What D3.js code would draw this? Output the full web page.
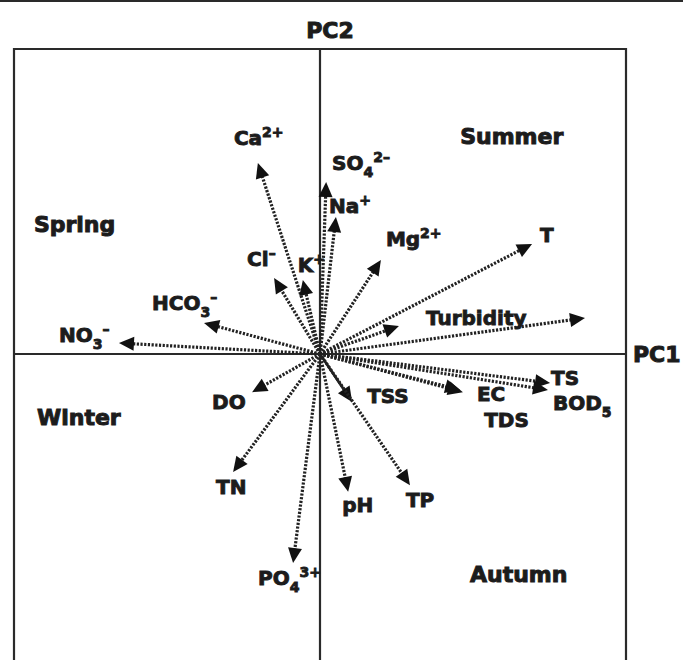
<!DOCTYPE html>
<html>
<head>
<meta charset="utf-8">
<script src="https://cdn.jsdelivr.net/npm/d3@7"></script>
<style>
  html, body { margin: 0; padding: 0; background: #fff; }
  svg text { font-family: "DejaVu Sans", "Liberation Sans", sans-serif; font-weight: bold; fill: #1c1c1c; }
</style>
</head>
<body>
<div id="chart"></div>
<script>
// loadings (PC1, PC2)
var variables = ['Ca{^2+}', 'SO{_4}{^2–}', 'Na{^+}', 'Cl{^–}', 'K{^+}', 'Mg{^2+}', 'HCO{_3}{^–}', 'NO{_3}{^–}',
  'T', 'Turbidity', '', 'TS', 'BOD{_5}', 'EC', 'TDS', 'TSS', 'TP', 'pH', 'PO{_4}{^3+}', 'TN', 'DO']
var pc1 = [-0.203, 0.020, 0.052, -0.150, -0.056, 0.199, -0.379, -0.657,
  0.693, 0.866, 0.258, 0.752, 0.745, 0.467, 0.458, 0.105, 0.294, 0.092, -0.088, -0.284, -0.222]
var pc2 = [0.626, 0.564, 0.449, 0.249, 0.243, 0.308, 0.102, 0.036,
  0.361, 0.118, 0.092, -0.095, -0.118, -0.125, -0.118, -0.157, -0.430, -0.452, -0.685, -0.387, -0.125]
// TSS is drawn with a solid shaft in the original
var solid = ['TSS']

var seasons = ['Spring', 'Summer', 'Winter', 'Autumn']
var seasonX = [-0.935, 0.458, -0.925, 0.490]
var seasonY = [0.400, 0.687, -0.233, -0.749]

// label placement relative to the arrow tip (px)
var labelDx = [-24, 6, -7, -27, -5, 5, -52, -60, 8, -159, 0, 1, 5, 14, 24, 15, -4, -6, -35, -17, -40]
var labelDy = [-18, -12, -4, -12, -8, -14, -13, -1, -2, 7, 0, 2, 20, 9, 37, 1, 22, 20, 22, 22, 17]

var W = 683, H = 660

var svg = d3.select('#chart').append('svg')
  .attr('width', W)
  .attr('height', H)

var x = d3.scaleLinear().domain([-1, 1]).range([14, 626])
var y = d3.scaleLinear().domain([-1, 1]).range([659, 49])

var ink = '#2a2a2a'

// top rule
svg.append('line')
  .attr('x1', 0).attr('x2', W)
  .attr('y1', 1).attr('y2', 1)
  .style('stroke', ink).attr('stroke-width', 2)

// open-bottom frame
svg.append('path')
  .attr('d', 'M' + x(-1) + ',' + H + 'V' + y(1) + 'H' + x(1) + 'V' + H)
  .style('fill', 'none').style('stroke', ink).attr('stroke-width', 2.2)

// axes through origin
svg.append('line')
  .attr('x1', x(-1)).attr('x2', x(1))
  .attr('y1', y(0)).attr('y2', y(0))
  .style('stroke', ink).attr('stroke-width', 2.2)
svg.append('line')
  .attr('x1', x(0)).attr('x2', x(0))
  .attr('y1', y(1)).attr('y2', H)
  .style('stroke', ink).attr('stroke-width', 2.2)

function addText(sel, str, size) {
  var re = /\{([_^])([^}]*)\}|([^{]+)/g
  var m, prev = 0
  while ((m = re.exec(str)) !== null) {
    if (m[3]) {
      sel.append('tspan').attr('dy', -prev).text(m[3])
      prev = 0
    } else {
      var off = m[1] === '_' ? 7 : -8
      sel.append('tspan')
        .attr('dy', off - prev)
        .style('font-size', Math.round(size * 0.72) + 'px')
        .text(m[2])
      prev = off
    }
  }
}

// arrows
var g = svg.append('g')
var headLen = 15, headHalf = 7
variables.forEach(function (name, i) {
  var x0 = x(0), y0 = y(0)
  var x1 = x(pc1[i]), y1 = y(pc2[i])
  var ang = Math.atan2(y1 - y0, x1 - x0)
  var len = Math.hypot(x1 - x0, y1 - y0)
  var bx = x0 + Math.cos(ang) * (len - headLen + 1)
  var by = y0 + Math.sin(ang) * (len - headLen + 1)
  var isSolid = solid.indexOf(name) >= 0

  g.append('line')
    .attr('x1', x0).attr('y1', y0)
    .attr('x2', bx).attr('y2', by)
    .style('stroke', '#222')
    .attr('stroke-width', isSolid ? 2.6 : 3.2)
    .attr('stroke-dasharray', isSolid ? null : '2.2,1.5')

  var px = -Math.sin(ang), py = Math.cos(ang)
  var hx = x0 + Math.cos(ang) * (len - headLen)
  var hy = y0 + Math.sin(ang) * (len - headLen)
  g.append('path')
    .attr('d', 'M' + x1 + ',' + y1 +
      'L' + (hx + px * headHalf) + ',' + (hy + py * headHalf) +
      'L' + (hx - px * headHalf) + ',' + (hy - py * headHalf) + 'Z')
    .style('fill', '#111')

  if (name) {
    var t = svg.append('text')
      .attr('x', x1 + labelDx[i])
      .attr('y', y1 + labelDy[i])
      .style('font-size', '20px')
      .style('stroke', '#1c1c1c').style('stroke-width', 0.9)
    addText(t, name, 20)
  }
})

// season labels
seasons.forEach(function (s, i) {
  svg.append('text')
    .attr('x', x(seasonX[i]))
    .attr('y', y(seasonY[i]))
    .style('font-size', '22px')
    .style('stroke', '#1c1c1c').style('stroke-width', 1)
    .text(s)
})

// axis titles
svg.append('text')
  .attr('x', 330)
  .attr('y', 38)
  .attr('text-anchor', 'middle')
  .style('font-size', '22px')
  .style('stroke', '#1c1c1c').style('stroke-width', 1)
  .text('PC2')
svg.append('text')
  .attr('x', 633)
  .attr('y', y(0) + 8)
  .style('font-size', '22px')
  .style('stroke', '#1c1c1c').style('stroke-width', 1)
  .text('PC1')
</script>
</body>
</html>
